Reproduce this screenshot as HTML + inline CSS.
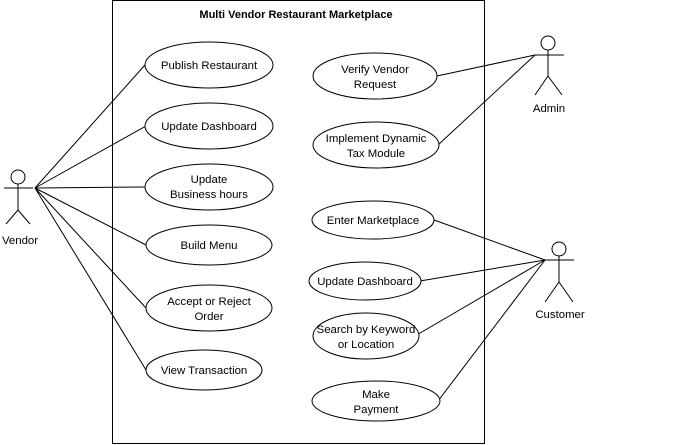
<!DOCTYPE html>
<html><head><style>body{margin:0;background:#fff}svg{display:block}text{font-family:"Liberation Sans",sans-serif;font-size:11.4px;fill:#000}</style></head>
<body>
<svg width="675" height="445" viewBox="0 0 675 445">
<rect x="112.5" y="0.5" width="372" height="443" fill="#fff" stroke="#000"/>
<text x="296" y="18" text-anchor="middle" font-weight="bold" style="font-size:11px">Multi Vendor Restaurant Marketplace</text>
<g stroke="#000" fill="none">
<line x1="35" y1="188" x2="145" y2="65"/>
<line x1="35" y1="188" x2="146" y2="126"/>
<line x1="35" y1="188" x2="145" y2="187"/>
<line x1="35" y1="188" x2="146" y2="245"/>
<line x1="35" y1="188" x2="146" y2="308"/>
<line x1="35" y1="188" x2="146" y2="370"/>
<line x1="535" y1="55" x2="437" y2="76"/>
<line x1="535" y1="55" x2="438" y2="145"/>
<line x1="545" y1="260" x2="434" y2="220"/>
<line x1="545" y1="260" x2="420" y2="281"/>
<line x1="545" y1="260" x2="415" y2="336"/>
<line x1="545" y1="260" x2="438" y2="401"/>
</g>
<g stroke="#000" fill="#fff">
<ellipse cx="209" cy="65" rx="64" ry="23"/>
<ellipse cx="209" cy="126" rx="64" ry="23"/>
<ellipse cx="209" cy="187" rx="64" ry="23"/>
<ellipse cx="209" cy="245" rx="63" ry="20"/>
<ellipse cx="209" cy="308" rx="63" ry="23"/>
<ellipse cx="204" cy="370" rx="58" ry="20"/>
<ellipse cx="375" cy="76" rx="62" ry="23"/>
<ellipse cx="376" cy="145" rx="63" ry="23"/>
<ellipse cx="373" cy="220" rx="61" ry="19"/>
<ellipse cx="365" cy="281" rx="56" ry="19"/>
<ellipse cx="366" cy="336" rx="53" ry="23"/>
<ellipse cx="376" cy="401" rx="64" ry="20"/>
</g>
<g text-anchor="middle">
<text x="209" y="69">Publish Restaurant</text>
<text x="209" y="130">Update Dashboard</text>
<text x="209" y="183">Update</text><text x="209" y="198">Business hours</text>
<text x="209" y="249">Build Menu</text>
<text x="209" y="305">Accept or Reject</text><text x="209" y="320">Order</text>
<text x="204" y="374">View Transaction</text>
<text x="375" y="73">Verify Vendor</text><text x="375" y="88">Request</text>
<text x="376" y="142">Implement Dynamic</text><text x="376" y="157">Tax Module</text>
<text x="373" y="224">Enter Marketplace</text>
<text x="365" y="285">Update Dashboard</text>
<text x="366" y="333">Search by Keyword</text><text x="366" y="348">or Location</text>
<text x="376" y="398">Make</text><text x="376" y="413">Payment</text>
<text x="20" y="244">Vendor</text>
<text x="549" y="112">Admin</text>
<text x="560" y="318">Customer</text>
</g>
<g stroke="#000" fill="#fff">
<circle cx="18" cy="177" r="7"/>
<path d="M18 184V210M4 188H33M18 210L6 224M18 210L30 224" fill="none"/>
<circle cx="548" cy="43" r="7"/>
<path d="M548 50V76M535 55H564M548 76L535 95M548 76L562 95" fill="none"/>
<circle cx="559" cy="249" r="7"/>
<path d="M559 256V282M545 260H574M559 282L545 302M559 282L573 302" fill="none"/>
</g>
</svg>
</body></html>
